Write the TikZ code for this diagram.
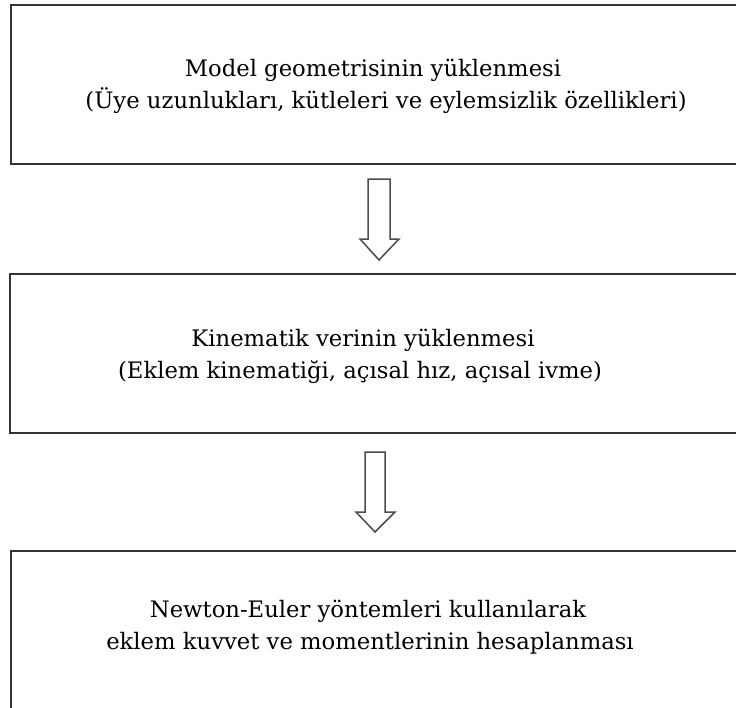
\documentclass[tikz,border=0pt]{standalone}
\usepackage{fontspec}
\setmainfont{DejaVu Serif}
\begin{document}
\begin{tikzpicture}[x=1pt,y=-1pt,
  boxshape/.style={draw=black!80,line width=1.8pt,rectangle,inner sep=0pt},
  label/.style={font=\fontsize{22.7}{27}\selectfont,inner sep=0pt,anchor=center},
  blockarrow/.style={draw=black!70,line width=1.5pt,fill=white,line join=miter}]
\useasboundingbox (0,0) rectangle (736,707);
\clip (0,0) rectangle (736,707);
% boxes
\node[boxshape,minimum width=760pt,minimum height=159pt] (b1) at (391,84.5) {};
\node[boxshape,minimum width=760pt,minimum height=159pt] (b2) at (390,353.5) {};
\node[boxshape,minimum width=760pt,minimum height=200pt] (b3) at (391,651) {};
% texts
\node[label] (t1a) at (373,70) {Model geometrisinin yüklenmesi};
\node[label] (t1b) at (386,101) {(Üye uzunlukları, kütleleri ve eylemsizlik özellikleri)};
\node[label] (t2a) at (363,340) {Kinematik verinin yüklenmesi};
\node[label] (t2b) at (360,372) {(Eklem kinematiği, açısal hız, açısal ivme)};
\node[label] (t3a) at (368,611) {Newton-Euler yöntemleri kullanılarak};
\node[label] (t3b) at (370,643) {eklem kuvvet ve momentlerinin hesaplanması};
% block arrows
\draw[blockarrow] (368,179) -- (390,179) -- (390,239) -- (399,239) -- (379,260) -- (360,239) -- (368,239) -- cycle;
\draw[blockarrow] (365,452) -- (385,452) -- (385,512) -- (395,512) -- (375,532) -- (356,512) -- (365,512) -- cycle;
\end{tikzpicture}
\end{document}
